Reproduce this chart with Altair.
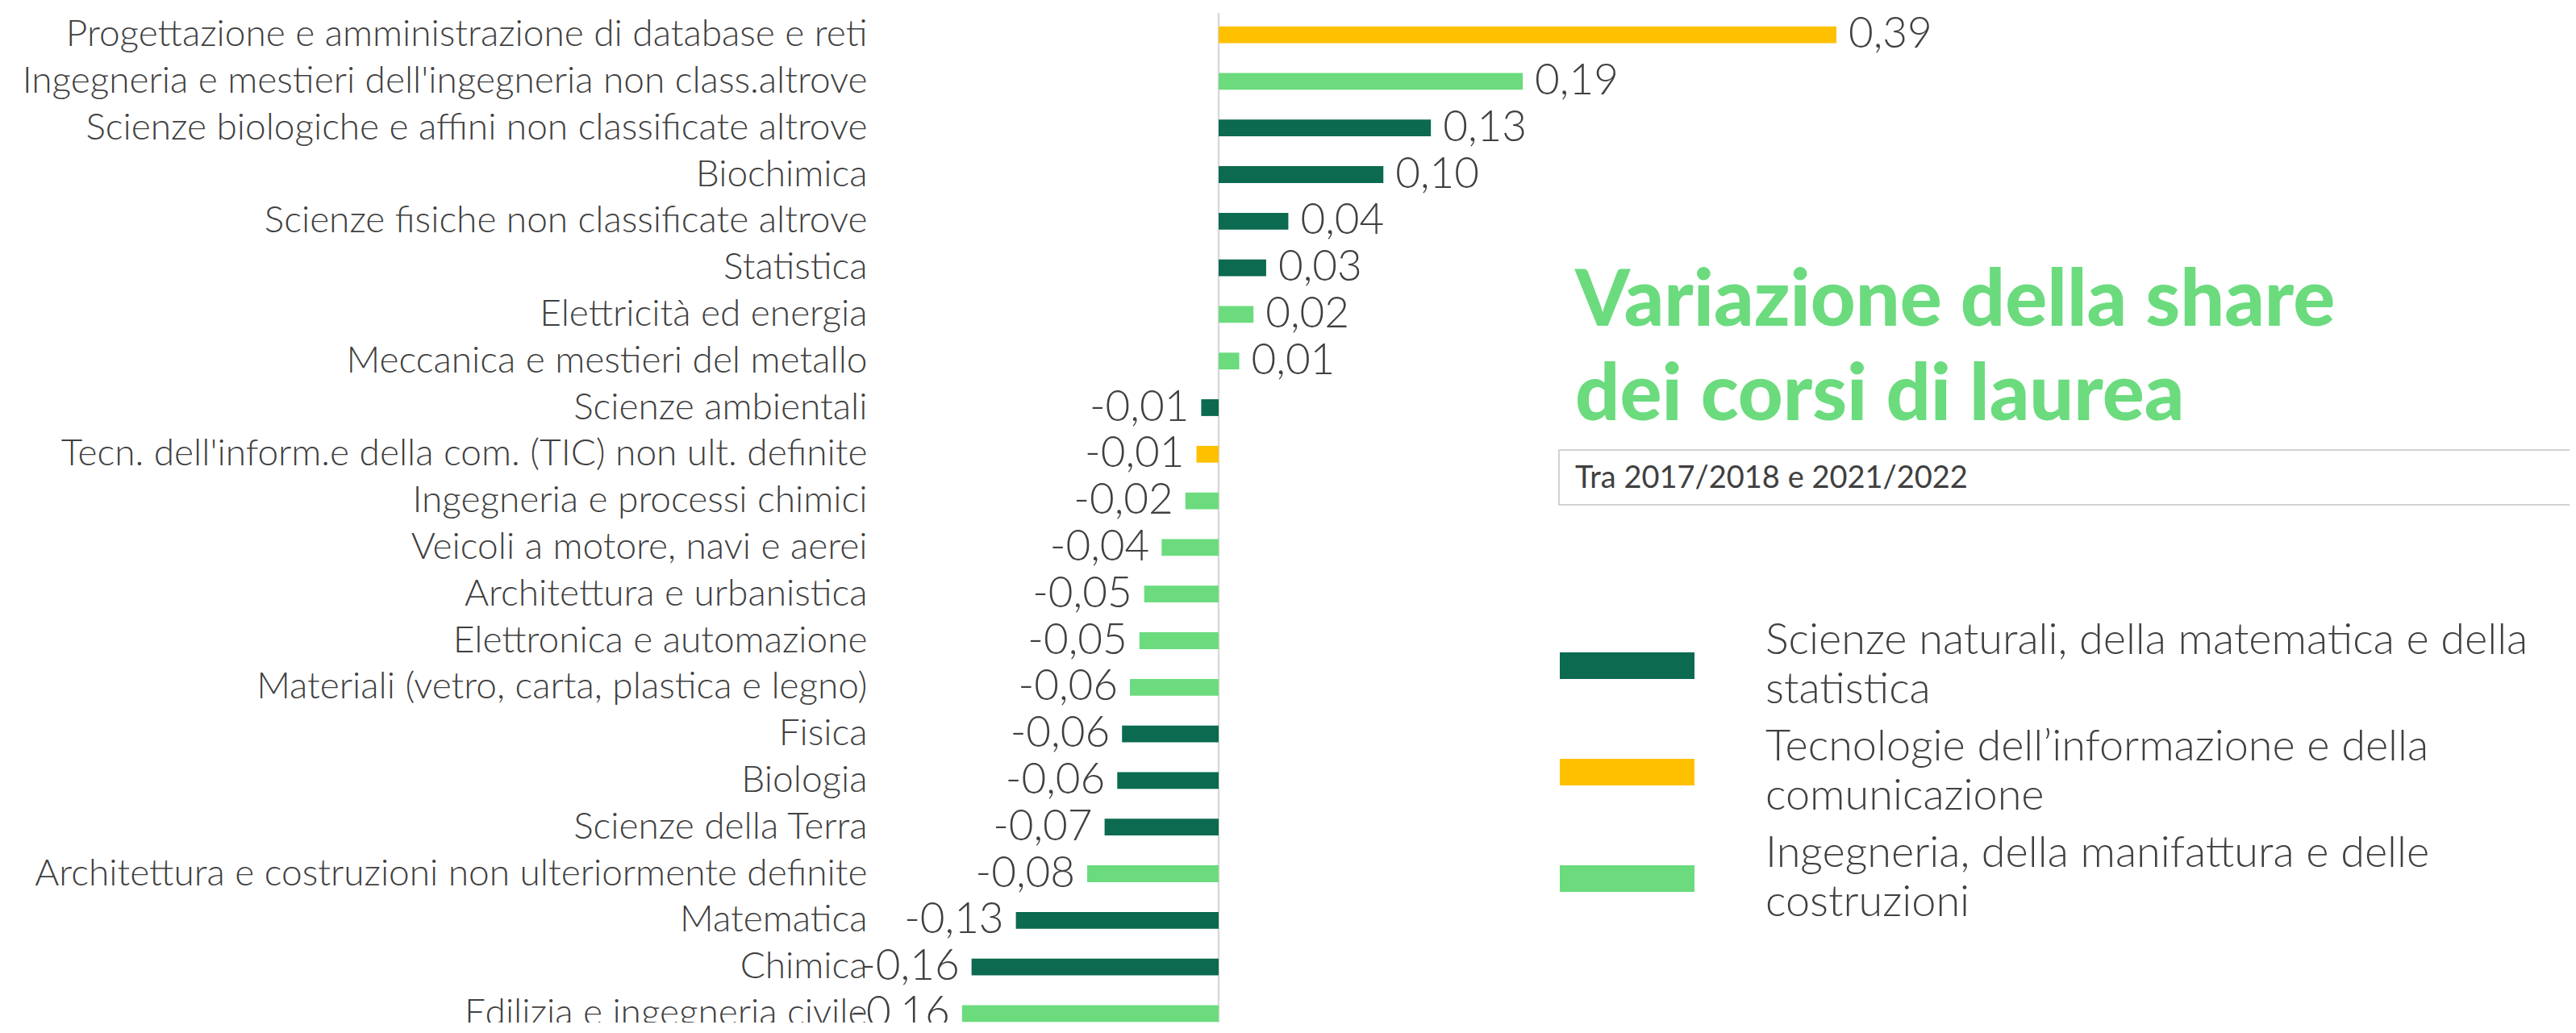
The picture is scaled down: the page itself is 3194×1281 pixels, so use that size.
import altair as alt
import pandas as pd

categories = [
    "Progettazione e amministrazione di database e reti",
    "Ingegneria e mestieri dell'ingegneria non class.altrove",
    "Scienze biologiche e affini non classificate altrove",
    "Biochimica",
    "Scienze fisiche non classificate altrove",
    "Statistica",
    "Elettricità ed energia",
    "Meccanica e mestieri del metallo",
    "Scienze ambientali",
    "Tecn. dell'inform.e della com. (TIC) non ult. definite",
    "Ingegneria e processi chimici",
    "Veicoli a motore, navi e aerei",
    "Architettura e urbanistica",
    "Elettronica e automazione",
    "Materiali (vetro, carta, plastica e legno)",
    "Fisica",
    "Biologia",
    "Scienze della Terra",
    "Architettura e costruzioni non ulteriormente definite",
    "Matematica",
    "Chimica",
    "Edilizia e ingegneria civile",
]
values = [0.390, 0.192, 0.134, 0.104, 0.044, 0.030, 0.022, 0.013,
          -0.011, -0.014, -0.021, -0.036, -0.047, -0.050, -0.056,
          -0.061, -0.064, -0.072, -0.083, -0.128, -0.156, -0.162]
G_SCI = "Scienze naturali, della matematica e della statistica"
G_ICT = "Tecnologie dell\u2019informazione e della comunicazione"
G_ENG = "Ingegneria, della manifattura e delle costruzioni"
groups = [G_ICT, G_ENG, G_SCI, G_SCI, G_SCI, G_SCI, G_ENG, G_ENG,
          G_SCI, G_ICT, G_ENG, G_ENG, G_ENG, G_ENG, G_ENG,
          G_SCI, G_SCI, G_SCI, G_ENG, G_SCI, G_SCI, G_ENG]

group_order = [G_SCI, G_ICT, G_ENG]
group_colors = ["#0B6A4F", "#FFC000", "#6BDB7E"]
legend_line1 = ["Scienze naturali, della matematica e della",
                "Tecnologie dell\u2019informazione e della",
                "Ingegneria, della manifattura e delle"]
legend_line2 = ["statistica", "comunicazione", "costruzioni"]
title_line1 = "Variazione della share"
title_line2 = "dei corsi di laurea"
subtitle_text = "Tra 2017/2018 e 2021/2022"

df = pd.DataFrame({"cat": categories, "v": values, "g": groups})
leg_df = pd.DataFrame({"g": group_order, "l1": legend_line1, "l2": legend_line2})

TXT = "#404040"
FONT = "Lato"

# plot origin on the page: x 1088, y 32
PL, PT = 1080, 24
X0, Y0 = 8 + PL, 8 + PT
W, H = 2098, 1236
N = len(categories)
STEP = 57.8
P_IN = 0.64
P_OUT = (H / STEP - (N - P_IN)) / 2


def px(page_x):
    return page_x - X0


def py(page_y):
    return page_y - Y0


color_scale = alt.Scale(domain=group_order, range=group_colors)
y_scale = alt.Scale(domain=categories, paddingInner=P_IN, paddingOuter=P_OUT)
x_scale = alt.Scale(domain=[-423 / 1964, (W - 423) / 1964], nice=False, zero=False)
y_axis = alt.Axis(title=None, domain=False, ticks=False, labelPadding=13, labelLimit=1100,
                  labelFont=FONT, labelFontSize=46, labelFontWeight=300, labelColor=TXT)

base = alt.Chart(df)

bars = base.mark_bar().encode(
    x=alt.X("v:Q", scale=x_scale, axis=None),
    y=alt.Y("cat:N", scale=y_scale, axis=y_axis),
    color=alt.Color("g:N", scale=color_scale, legend=None),
)

lab_expr = "(datum.v < 0 ? '-' : '') + replace(format(abs(datum.v), '.2f'), '.', ',')"

pos_labels = base.transform_filter("datum.v >= 0").transform_calculate(lab=lab_expr).mark_text(
    align="left", baseline="middle", dx=15, font=FONT, fontSize=53, fontWeight=300, color=TXT
).encode(x=alt.X("v:Q", scale=x_scale, axis=None),
         y=alt.Y("cat:N", scale=y_scale, axis=y_axis), text="lab:N")

neg_labels = base.transform_filter("datum.v < 0").transform_calculate(lab=lab_expr).mark_text(
    align="right", baseline="middle", dx=-15, font=FONT, fontSize=53, fontWeight=300, color=TXT
).encode(x=alt.X("v:Q", scale=x_scale, axis=None),
         y=alt.Y("cat:N", scale=y_scale, axis=y_axis), text="lab:N")

zero_rule = alt.Chart(pd.DataFrame({"z": [0.0]})).mark_rule(color="#D9D9D9", strokeWidth=2.5).encode(
    x=alt.X("z:Q", scale=x_scale, axis=None), y=alt.value(py(16)), y2=alt.value(H)
)

# legend: one swatch + two text lines per group
leg_layers = []
leg_centers = [825.5, 957.5, 1089.5]
for gname, cy in zip(group_order, leg_centers):
    sub = alt.Chart(leg_df).transform_filter(alt.datum.g == gname)
    leg_layers.append(
        sub.mark_rule(strokeWidth=33, strokeCap="butt")
        .encode(x=alt.value(px(1934)), x2=alt.value(px(2101)), y=alt.value(py(cy)),
                color=alt.Color("g:N", scale=color_scale, legend=None))
    )
    leg_layers.append(
        sub.mark_text(align="left", baseline="alphabetic", font=FONT, fontSize=54, fontWeight=300, color=TXT)
        .encode(x=alt.value(px(2189)), y=alt.value(py(cy - 14.5)), text="l1:N")
    )
    leg_layers.append(
        sub.mark_text(align="left", baseline="alphabetic", font=FONT, fontSize=54, fontWeight=300, color=TXT)
        .encode(x=alt.value(px(2189)), y=alt.value(py(cy + 46.5)), text="l2:N")
    )

ann = alt.Chart(pd.DataFrame({"t": [0]}))
title1 = ann.mark_text(align="left", baseline="alphabetic", font=FONT, fontSize=97, fontWeight=900,
                       color="#6BDB7E").encode(x=alt.value(px(1953)), y=alt.value(py(404)),
                                               text=alt.value(title_line1))
title2 = ann.mark_text(align="left", baseline="alphabetic", font=FONT, fontSize=97, fontWeight=900,
                       color="#6BDB7E").encode(x=alt.value(px(1953)), y=alt.value(py(521)),
                                               text=alt.value(title_line2))
box_top = ann.mark_rule(color="#C4C4C4", strokeWidth=1.5).encode(
    x=alt.value(px(1933)), x2=alt.value(W + 20), y=alt.value(py(558)))
box_bottom = ann.mark_rule(color="#C4C4C4", strokeWidth=1.5).encode(
    x=alt.value(px(1933)), x2=alt.value(W + 20), y=alt.value(py(626)))
box_left = ann.mark_rule(color="#C4C4C4", strokeWidth=1.5).encode(
    x=alt.value(px(1933)), y=alt.value(py(558)), y2=alt.value(py(626)))
subtitle_mark = ann.mark_text(
    align="left", baseline="alphabetic", font=FONT, fontSize=38, fontWeight=400, color=TXT
).encode(x=alt.value(px(1953)), y=alt.value(py(605)), text=alt.value(subtitle_text))

chart = alt.layer(
    zero_rule, bars, pos_labels, neg_labels, *leg_layers,
    box_top, box_bottom, box_left, subtitle_mark, title1, title2
).properties(
    width=W, height=H,
    autosize=alt.AutoSizeParams(type="none"),
    padding={"left": PL, "top": PT, "right": 0, "bottom": 0},
).configure_view(strokeWidth=0)

chart.save("out.html", embed_options={"renderer": "svg", "actions": False})
